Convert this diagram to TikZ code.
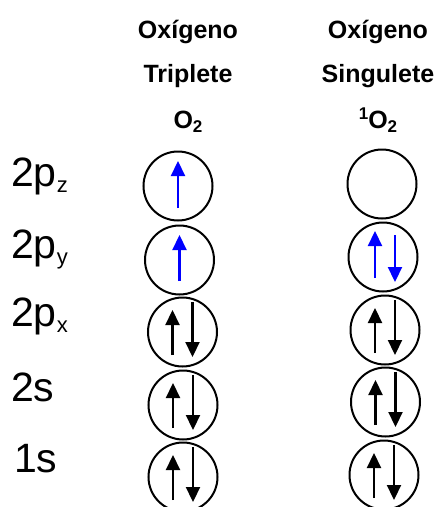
\documentclass[tikz,border=0pt]{standalone}
\usepackage{fontspec}
\setmainfont{Liberation Sans}
\usetikzlibrary{arrows.meta,calc}
\begin{document}
\begin{tikzpicture}[x=1pt,y=-1pt,
  orb/.style={draw,circle,line width=2pt,minimum size=69pt,inner sep=0pt},
  spin/.style={line width=2.2pt,-{Triangle[width=14pt,length=15pt]}},
  hdr/.style={anchor=base,inner sep=0pt,font=\fontsize{25}{25}\selectfont\bfseries},
  lbl/.style={anchor=base west,inner sep=0pt,font=\fontsize{41}{41}\selectfont}]
\useasboundingbox (0,0) rectangle (439,507);
\newcommand\sbs[1]{{\fontsize{22}{22}\selectfont\raisebox{-6.5pt}{#1}}}
\newcommand\hsb[1]{{\fontsize{17}{17}\selectfont\raisebox{-4.5pt}{#1}}}
\newcommand\hsp[1]{{\fontsize{17}{17}\selectfont\raisebox{8.5pt}{#1}}}
% headers
\node[hdr] (h1) at (188,38) {Oxígeno};
\node[hdr] (h2) at (188,82) {Triplete};
\node[hdr] (h3) at (188,128) {O\hsb{2}};
\node[hdr] (h4) at (378,38) {Oxígeno};
\node[hdr] (h5) at (378,82) {Singulete};
\node[hdr] (h6) at (378,128) {\hsp{1}O\hsb{2}};
% labels
\node[lbl] (lz) at (11,186) {2p\sbs{z}};
\node[lbl] (ly) at (11,258) {2p\sbs{y}};
\node[lbl] (lx) at (11,326) {2p\sbs{x}};
\node[lbl] (l2s) at (11,401) {2s};
\node[lbl] (l1s) at (14,472) {1s};
% left column
\node[orb] (Lz) at (178,186) {};
\node[orb] (Ly) at (179.5,260) {};
\node[orb] (Lx) at (182.5,332) {};
\node[orb] (L2) at (183,405) {};
\node[orb] (L1) at (183,477) {};
% right column
\node[orb] (Rz) at (382,184) {};
\node[orb] (Ry) at (383,257) {};
\node[orb] (Rx) at (385,330) {};
\node[orb] (R2) at (385.5,402) {};
\node[orb] (R1) at (384,475) {};
% single blue spins
\draw[spin,blue] ($(Lz)+(0,22)$) -- ($(Lz)+(0,-25)$);
\draw[spin,blue] ($(Ly)+(0,21)$) -- ($(Ly)+(0,-25)$);
% blue pair
\draw[spin,blue] ($(Ry)+(-8,21)$) -- ($(Ry)+(-8,-26)$);
\draw[spin,blue] ($(Ry)+(12,-22)$) -- ($(Ry)+(12,25)$);
% black pairs
\foreach \n in {Lx,L2,L1,Rx,R2,R1}{
  \draw[spin] ($(\n)+(-10,23)$) -- ($(\n)+(-10,-22)$);
  \draw[spin] ($(\n)+(10,-30)$) -- ($(\n)+(10,25)$);
}
\end{tikzpicture}
\end{document}
